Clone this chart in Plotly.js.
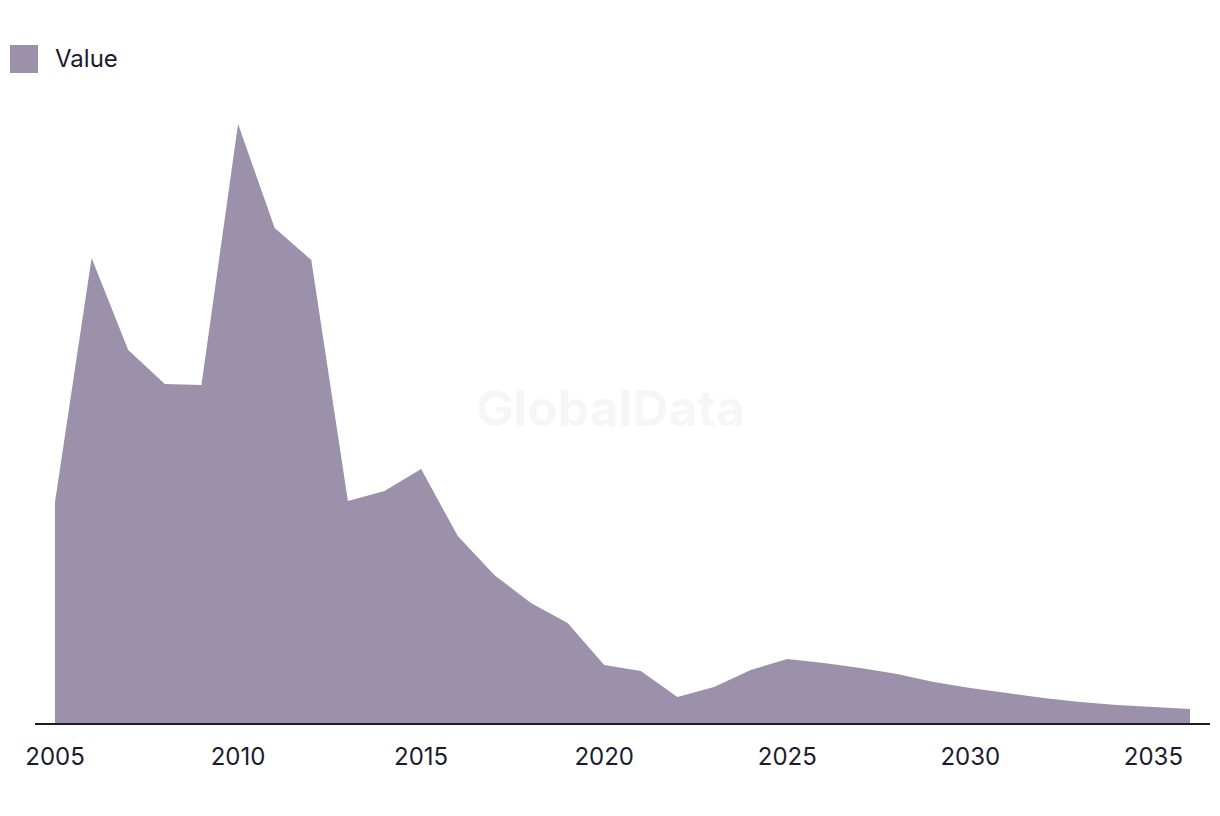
<!DOCTYPE html>
<html>
<head>
<meta charset="utf-8">
<script src="https://cdn.plot.ly/plotly-3.0.1.min.js"></script>
<style>
  html, body { margin: 0; padding: 0; background: #ffffff; }
  #chart { width: 1220px; height: 816px; }
</style>
</head>
<body>
<div id="chart"></div>
<script>
const years = [2005, 2006, 2007, 2008, 2009, 2010, 2011, 2012, 2013, 2014, 2015,
  2016, 2017, 2018, 2019, 2020, 2021, 2022, 2023, 2024, 2025, 2026, 2027, 2028,
  2029, 2030, 2031, 2032, 2033, 2034, 2035, 2036];
const values = [221, 465, 373, 339, 338, 599, 495, 463, 222, 232, 254,
  187, 148, 120, 100, 58, 52, 26, 36, 53, 64, 60, 55, 49,
  41, 35, 30, 25, 21, 18, 16, 14];
const tickVals = [2005, 2010, 2015, 2020, 2025, 2030, 2035];
const seriesName = "Value";

const fillColor = "#9b91aa";
const textColor = "#1c1b2e";
const fontFamily = "Inter, 'Noto Sans', sans-serif";

const trace = {
  x: years,
  y: values,
  type: "scatter",
  mode: "lines",
  name: seriesName,
  fill: "tozeroy",
  fillcolor: fillColor,
  line: { color: fillColor, width: 0 },
  hoverinfo: "x+y",
  showlegend: false
};

const layout = {
  width: 1220,
  height: 816,
  margin: { l: 35, r: 10, t: 100, b: 93 },
  paper_bgcolor: "#ffffff",
  plot_bgcolor: "#ffffff",
  font: { family: fontFamily, color: textColor, size: 24 },
  showlegend: false,
  xaxis: {
    range: [2004.454, 2036.546],
    tickmode: "array",
    tickvals: tickVals,
    ticktext: tickVals.map(String),
    showgrid: false,
    zeroline: false,
    showline: true,
    linecolor: textColor,
    linewidth: 2,
    ticks: "",
    ticklabelstandoff: 11,
    tickfont: { family: fontFamily, size: 24, color: textColor },
    fixedrange: true
  },
  yaxis: {
    range: [0, 623],
    showgrid: false,
    zeroline: false,
    showline: false,
    showticklabels: false,
    ticks: "",
    fixedrange: true
  },
  shapes: [
    {
      type: "rect", xref: "paper", yref: "paper",
      x0: -25 / 1175, x1: 3 / 1175,
      y0: (816 - 93 - 73) / 623, y1: (816 - 93 - 45) / 623,
      fillcolor: fillColor, line: { width: 0 }
    }
  ],
  annotations: [
    {
      text: seriesName, xref: "paper", yref: "paper",
      x: 18 / 1175, y: (816 - 93 - 58) / 623,
      xanchor: "left", yanchor: "middle", showarrow: false,
      font: { family: fontFamily, size: 24, color: textColor }
    },
    {
      text: "<b>GlobalData</b>", xref: "paper", yref: "paper",
      x: (610 - 35) / 1175, y: (723 - 408) / 623,
      xanchor: "center", yanchor: "middle", showarrow: false,
      font: { family: fontFamily, size: 50, color: "rgba(0,0,0,0.035)" }
    }
  ]
};

Plotly.newPlot("chart", [trace], layout, { displayModeBar: false, staticPlot: true });
</script>
</body>
</html>
